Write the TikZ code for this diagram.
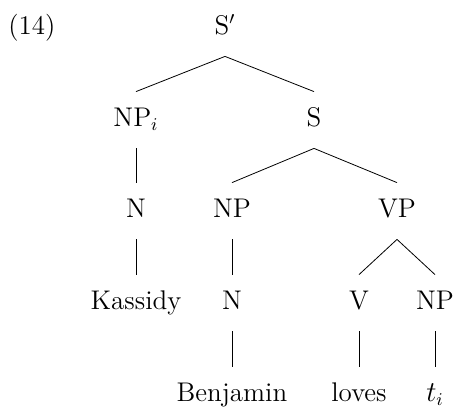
\documentclass[tikz,border=0pt]{standalone}
\usepackage{amsmath}

\begin{document}
\begin{tikzpicture}[x=0.5pt,y=-0.5pt,
  cat/.style={inner sep=0pt,text height=9.5pt,text depth=3pt,minimum height=28pt,font=\fontsize{13.5}{16}\selectfont}]
	 \useasboundingbox (0,0) rectangle (454,407);
	 %Example number
	 \node[cat,anchor=west] (num) at (8,28) {(14)};
	 
	 %Level 1
	 \node[cat] (sbar) at (225,28) {S$'$};
	 
	 %Level 2
	 \node[cat] (npi) at (136,120) {NP$_i$};
	 \node[cat] (s) at (314,120) {S};
	 
	 \draw (sbar.south) to (npi.north);
	 \draw (sbar.south) to (s.north);
	 
	 %Level 3
	 \node[cat] (n1) at (136,211) {N};
	 \node[cat] (np1) at (232,211) {NP};
	 \node[cat] (vp) at (397,211) {VP};
	 
	 \draw (npi.south) to (n1.north);
	 \draw (s.south) to (np1.north);
	 \draw (s.south) to (vp.north);
	 
	 %Level 4
	 \node[cat] (kas) at (136,303) {Kassidy};
	 \node[cat] (n2) at (232,303) {N};
	 \node[cat] (v) at (359,303) {V};
	 \node[cat] (np2) at (435,303) {NP};
	 
	 \draw (n1.south) to (kas.north);
	 \draw (np1.south) to (n2.north);
	 \draw (vp.south) to (v.north);
	 \draw (vp.south) to (np2.north);
	 
	 %Level 5
	 \node[cat] (ben) at (232,395) {Benjamin};
	 \node[cat] (loves) at (359,395) {loves};
	 \node[cat] (ti) at (435,395) {$t_i$};
	 
	 \draw (n2.south) to (ben.north);
	 \draw (v.south) to (loves.north);
	 \draw (np2.south) to (ti.north);
\end{tikzpicture}
\end{document}
